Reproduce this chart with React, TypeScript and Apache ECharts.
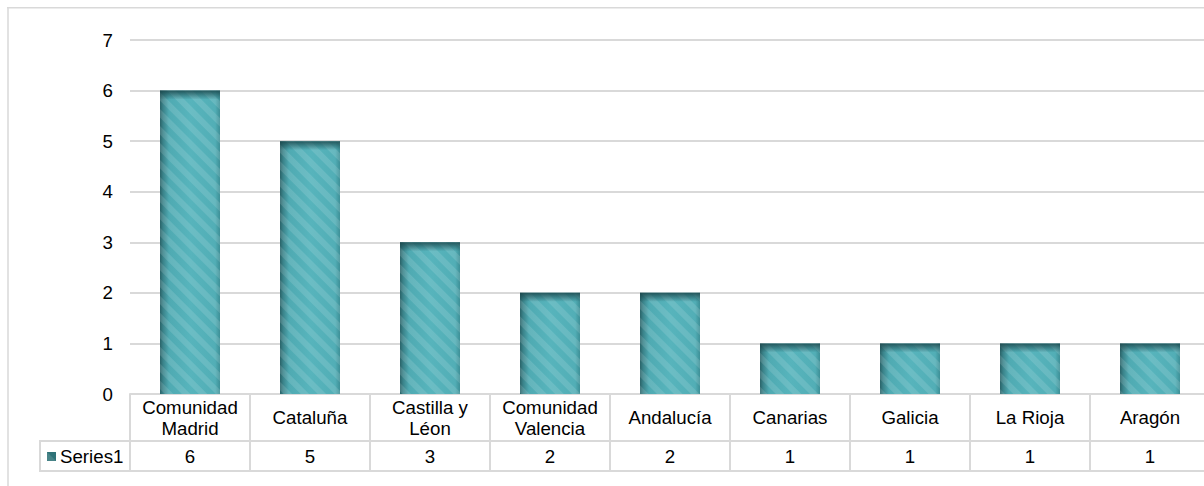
import React, { useEffect, useRef } from "react";
import * as echarts from "echarts";

const categories = [
  "Comunidad\nMadrid",
  "Cataluña",
  "Castilla y\nLéon",
  "Comunidad\nValencia",
  "Andalucía",
  "Canarias",
  "Galicia",
  "La Rioja",
  "Aragón",
];
const seriesName = "Series1";
const values = [6, 5, 3, 2, 2, 1, 1, 1, 1];
const yTicks = { min: 0, max: 7, interval: 1 };

const FONT = "'Liberation Sans', Arial, sans-serif";
const GRID_COLOR = "#d9d9d9";
const FS = 18.7;

export default function App() {
  const ref = useRef<HTMLDivElement>(null);
  useEffect(() => {
    if (!ref.current) return;
    const chart = echarts.init(ref.current, undefined, { renderer: "svg" });
    const barFill = new echarts.graphic.LinearGradient(1, 0, 0, 0, [
      { offset: 0, color: "#3e8f96" },
      { offset: 0.08, color: "#52aeb6" },
      { offset: 0.5, color: "#57b4bc" },
      { offset: 0.85, color: "#4faab2" },
      { offset: 0.95, color: "#3a8289" },
      { offset: 1, color: "#2a6368" },
    ]);
    chart.setOption({
      animation: false,
      textStyle: { fontFamily: FONT },
      grid: { left: 123, right: 8, top: 33, bottom: 92, containLabel: false },
      legend: {
        data: [{ name: seriesName, itemStyle: { color: "#2f7378" } }],
        left: 40,
        top: 440,
        padding: 0,
        itemWidth: 9,
        itemHeight: 9,
        itemGap: 5,
        icon: "rect",
        textStyle: { fontSize: FS, color: "#000", fontFamily: FONT, padding: [0, 0, 0, -1] },
        selectedMode: false,
      },
      xAxis: [
        {
          type: "category",
          data: categories,
          position: "bottom",
          axisLine: { show: true, lineStyle: { color: GRID_COLOR, width: 2 } },
          axisTick: { show: true, length: 47, lineStyle: { color: GRID_COLOR, width: 2 } },
          axisLabel: {
            margin: 23.5,
            verticalAlign: "middle",
            fontSize: FS,
            lineHeight: 21,
            color: "#000",
            fontFamily: FONT,
            interval: 0,
          },
          splitLine: { show: false },
        },
        {
          type: "category",
          data: categories,
          position: "bottom",
          offset: 47,
          axisLine: { show: true, lineStyle: { color: GRID_COLOR, width: 2 } },
          axisTick: { show: true, length: 30, lineStyle: { color: GRID_COLOR, width: 2 } },
          axisLabel: {
            margin: 15,
            verticalAlign: "middle",
            fontSize: FS,
            color: "#000",
            fontFamily: FONT,
            interval: 0,
            formatter: (_v: string, i: number) => String(values[i]),
          },
        },
      ],
      yAxis: {
        type: "value",
        min: yTicks.min,
        max: yTicks.max,
        interval: yTicks.interval,
        axisLine: { show: false },
        axisTick: { show: false },
        axisLabel: { margin: 17, fontSize: FS, color: "#000", fontFamily: FONT },
        splitLine: { lineStyle: { color: GRID_COLOR, width: 2 } },
      },
      series: [
        {
          name: seriesName,
          type: "bar",
          data: values,
          barWidth: "50%",
          itemStyle: {
            color: barFill,
            decal: {
              symbol: "rect",
              symbolSize: 1,
              dashArrayX: [[1, 0]],
              dashArrayY: [6, 6],
              rotation: Math.PI / 4,
              color: "rgba(255,255,255,0.12)",
            },
          },
        },
        {
          type: "custom",
          data: values.map((v, i) => [i, v]),
          z: 3,
          silent: true,
          renderItem: (params: any, api: any) => {
            const top = api.coord([api.value(0), api.value(1)]);
            const w = api.size([1, 0])[0] * 0.5;
            return {
              type: "rect",
              shape: { x: top[0] - w / 2, y: top[1], width: w, height: 9 },
              style: {
                fill: new echarts.graphic.LinearGradient(0, 0, 0, 1, [
                  { offset: 0, color: "rgba(25,70,75,0.85)" },
                  { offset: 1, color: "rgba(25,70,75,0)" },
                ]),
              },
            };
          },
        },
      ],
      graphic: [
        { type: "line", shape: { x1: 1, y1: 0, x2: 1, y2: 479 }, style: { stroke: GRID_COLOR, lineWidth: 1.5 } },
        { type: "line", shape: { x1: 0, y1: 0.75, x2: 1211, y2: 0.75 }, style: { stroke: GRID_COLOR, lineWidth: 1.5 } },
        { type: "line", shape: { x1: 33, y1: 434, x2: 123, y2: 434 }, style: { stroke: GRID_COLOR, lineWidth: 2 } },
        { type: "line", shape: { x1: 33, y1: 433, x2: 33, y2: 465 }, style: { stroke: GRID_COLOR, lineWidth: 2 } },
        { type: "line", shape: { x1: 32, y1: 464, x2: 1211, y2: 464 }, style: { stroke: GRID_COLOR, lineWidth: 2 } },
      ],
    });
    return () => chart.dispose();
  }, []);
  return (
    <div style={{ position: "fixed", left: 0, top: 0, width: 1204, height: 486, overflow: "hidden", background: "#fff" }}>
      <div ref={ref} style={{ position: "absolute", left: 7, top: 7, width: 1211, height: 479 }} />
    </div>
  );
}
